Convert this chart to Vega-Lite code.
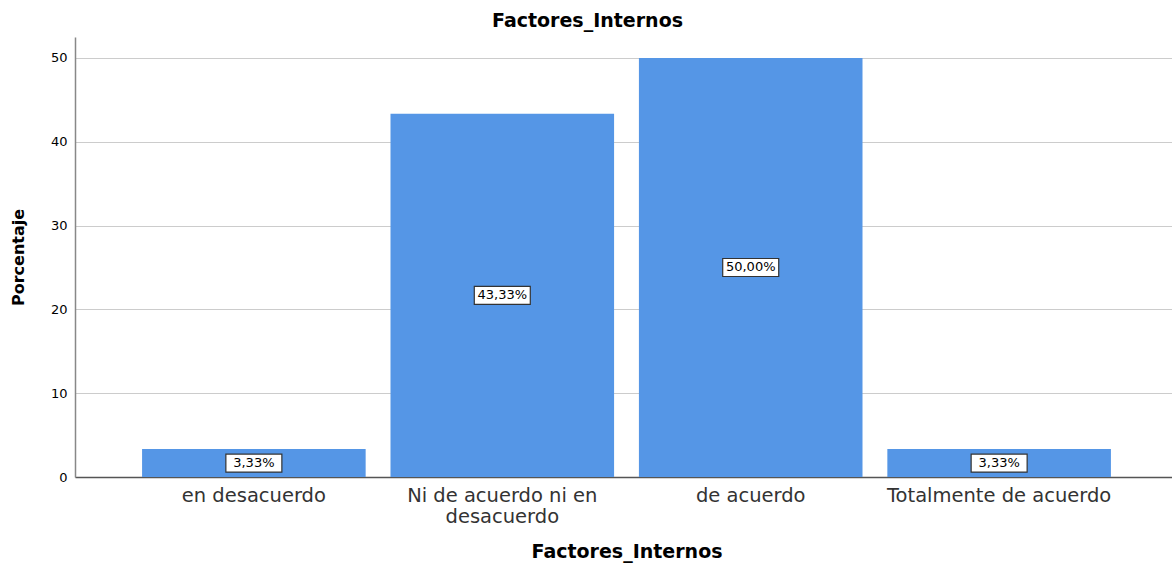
{
  "$schema": "https://vega.github.io/schema/vega-lite/v6.json",
  "width": 1103,
  "height": 440,
  "autosize": {"type": "none"},
  "padding": {"left": 75, "top": 37, "right": 0, "bottom": 86},
  "background": "white",
  "config": {
    "view": {"stroke": null},
    "font": "DejaVu Sans"
  },
  "title": {
    "text": "Factores_Internos",
    "fontSize": 19,
    "fontWeight": "bold",
    "font": "DejaVu Sans",
    "color": "#000000",
    "anchor": "middle",
    "dx": -39,
    "offset": 6
  },
  "data": {
    "values": [
      {"categoria": "en desacuerdo", "porcentaje": 3.33, "etiqueta": "3,33%"},
      {"categoria": "Ni de acuerdo ni en desacuerdo", "porcentaje": 43.33, "etiqueta": "43,33%"},
      {"categoria": "de acuerdo", "porcentaje": 50.0, "etiqueta": "50,00%"},
      {"categoria": "Totalmente de acuerdo", "porcentaje": 3.33, "etiqueta": "3,33%"}
    ]
  },
  "encoding": {
    "x": {
      "field": "categoria",
      "type": "nominal",
      "sort": null,
      "scale": {"paddingInner": 0.1, "paddingOuter": 0.27},
      "axis": {
        "title": "Factores_Internos",
        "titleFont": "DejaVu Sans",
        "titleFontSize": 19,
        "titleFontWeight": "bold",
        "titleColor": "#000000",
        "titlePadding": 17,
        "labelAngle": 0,
        "labelFont": "DejaVu Sans",
        "labelFontSize": 19.5,
        "labelColor": "#333333",
        "labelPadding": 9,
        "labelLimit": 300,
        "labelLineHeight": 21,
        "labelExpr": "datum.label == 'Ni de acuerdo ni en desacuerdo' ? ['Ni de acuerdo ni en', 'desacuerdo'] : datum.label",
        "ticks": false,
        "domainColor": "#555555",
        "domainWidth": 1.5,
        "grid": false
      }
    }
  },
  "layer": [
    {
      "mark": {"type": "bar", "color": "#5596E6"},
      "encoding": {
        "y": {
          "field": "porcentaje",
          "type": "quantitative",
          "scale": {"domain": [0, 52.5], "nice": false},
          "axis": {
            "title": "Porcentaje",
            "titleFont": "DejaVu Sans",
            "titleFontSize": 16,
            "titleFontWeight": "bold",
            "titleColor": "#000000",
            "titlePadding": 24,
            "values": [0, 10, 20, 30, 40, 50],
            "labelFont": "DejaVu Sans",
            "labelFontSize": 13,
            "labelColor": "#000000",
            "labelPadding": 8,
            "ticks": false,
            "domainColor": "#888888",
            "domainWidth": 1.5,
            "gridColor": "#cccccc",
            "gridWidth": 1
          }
        }
      }
    },
    {
      "mark": {"type": "tick", "size": 56, "thickness": 18, "color": "white", "fill": "white", "stroke": "#333333", "strokeWidth": 1.2, "opacity": 1},
      "encoding": {
        "y": {
          "field": "porcentaje",
          "type": "quantitative",
          "scale": {"domain": [0, 105], "nice": false},
          "axis": null
        }
      }
    },
    {
      "mark": {"type": "text", "font": "DejaVu Sans", "fontSize": 13, "color": "#000000", "baseline": "middle", "align": "center"},
      "encoding": {
        "y": {
          "field": "porcentaje",
          "type": "quantitative",
          "scale": {"domain": [0, 105], "nice": false},
          "axis": null
        },
        "text": {"field": "etiqueta"}
      }
    }
  ],
  "resolve": {"scale": {"y": "independent"}}
}
